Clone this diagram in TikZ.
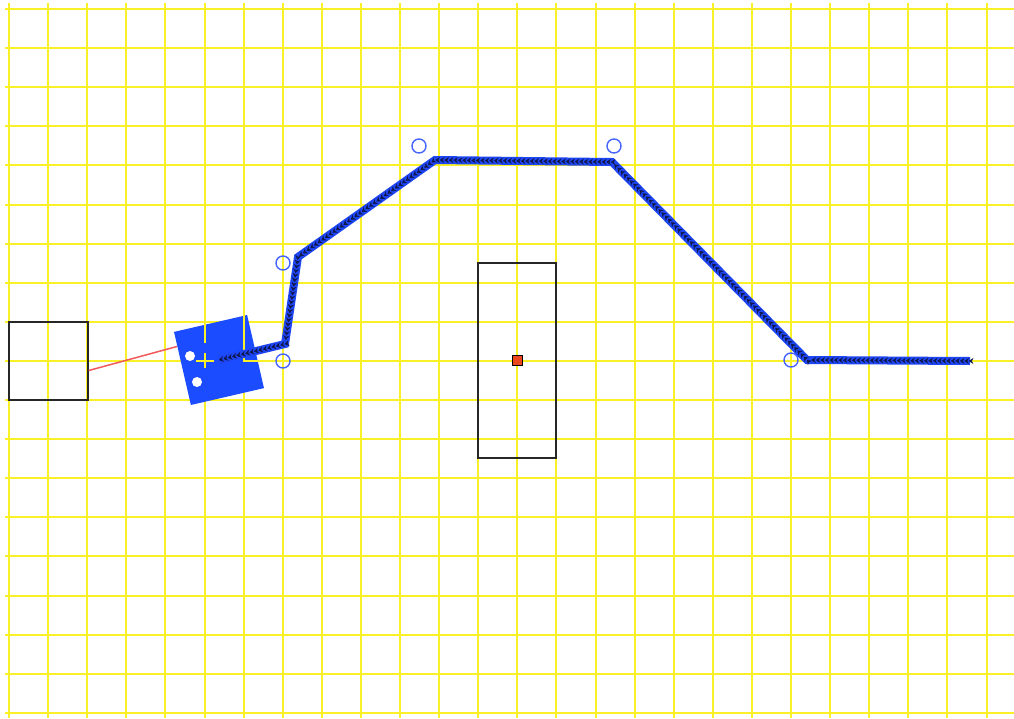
\documentclass[tikz,border=0pt]{standalone}
\usetikzlibrary{arrows.meta,decorations.markings,calc}
\definecolor{gridyel}{RGB}{250,240,40}
\definecolor{robblue}{RGB}{28,76,255}
\definecolor{pathblue}{RGB}{30,70,245}
\definecolor{markdark}{RGB}{15,25,80}
\definecolor{circblue}{RGB}{70,100,255}
\definecolor{redline}{RGB}{240,90,90}
\definecolor{goalred}{RGB}{235,70,30}
\tikzset{
  gridline/.style={draw=gridyel,line width=1.6pt},
  box/.style={draw=black!85,line width=1.3pt,inner sep=0pt,fill=none},
  wpt/.style={draw=circblue,circle,line width=1.4pt,minimum size=14pt,inner sep=0pt},
  trail/.style={draw=pathblue,line width=8pt,
    postaction={decorate,decoration={markings,
      mark=between positions 0 and 1 step 4.5pt with {\arrowreversed[markdark]{Stealth[length=4.5pt,width=6pt]}}}}},
}
\begin{document}
\begin{tikzpicture}[x=1pt,y=-1pt]
\useasboundingbox[fill=white] (0,0) rectangle (1014,718);
% grid
\foreach \i in {0,...,25} \draw[gridline] ({round(9+39.1*\i)},3) -- ({round(9+39.1*\i)},718);
\foreach \j in {0,...,18} \draw[gridline] (5,{round(9+39.1*\j)}) -- (1014,{round(9+39.1*\j)});
% boxes
\node[box,minimum width=79pt,minimum height=78pt] (lsq) at (48.5,361) {};
\node[box,minimum width=78pt,minimum height=195pt] (csq) at (517,360.5) {};
\node[draw=black,line width=1pt,fill=goalred,minimum size=10pt,inner sep=0pt] (goal) at (517,360) {};
% robot
\node[fill=robblue,rotate=13,minimum size=75pt,inner sep=0pt] (robot) at (219,360) {};
\coordinate (rlt) at ($(robot.north west)!0.2!(robot.south west)$);
\coordinate (lsqr) at ($(lsq.north east)!0.62!(lsq.south east)$);
\draw[redline,line width=1.5pt] (lsqr) -- (rlt);
\node[fill=white,circle,minimum size=10pt,inner sep=0pt] (d1) at (190,356) {};
\node[fill=white,circle,minimum size=10pt,inner sep=0pt] (d2) at (197,382) {};
% grid showing over robot
\draw[gridline] (205,322) -- (205,343);
\draw[gridline] (196,361) -- (214,361);
\draw[gridline] (205,353) -- (205,368);
\draw[gridline] (244,313) -- (244,361) -- (268,361);
% trail
\coordinate (p1) at (285,344);
\coordinate (p2) at (298,257);
\coordinate (p3) at (435,160);
\coordinate (p4) at (612,162);
\coordinate (p5) at (807,360);
\coordinate (p6) at (970,361);
\draw[trail] (robot.center) -- (p1) -- (p2) -- (p3) -- (p4) -- (p5) -- (p6);
% waypoints
\node[wpt] (w1) at (283,361) {};
\node[wpt] (w2) at (283,263) {};
\node[wpt] (w3) at (419,146) {};
\node[wpt] (w4) at (614,146) {};
\node[wpt] (w5) at (791,360) {};
\end{tikzpicture}
\end{document}
